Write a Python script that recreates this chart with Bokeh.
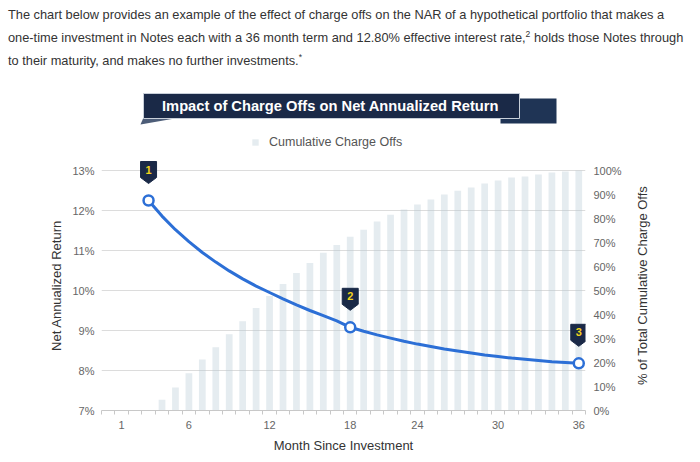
import math
from bokeh.plotting import figure
from bokeh.layouts import column, row
from bokeh.models import (Range1d, LinearAxis, FixedTicker, Label, PrintfTickFormatter, Div)
from bokeh.core.properties import value
from bokeh.embed import file_html
from bokeh.resources import INLINE

# ---------------- data ----------------
months = list(range(1, 37))
charge_offs = [0, 0, 0, 0, 4.5, 9.6, 15.5, 21.3, 26.4, 31.8, 37.2, 42.7, 47.7, 52.7,
               57.3, 61.5, 65.7, 69.0, 72.4, 75.3, 78.7, 81.6, 83.7, 85.8, 87.9, 90.0,
               91.6, 92.9, 94.6, 95.8, 97.1, 97.5, 98.3, 99.2, 99.6, 100.0]
nar_months = list(range(4, 37))
nar = [12.25, 11.86, 11.52, 11.22, 10.95, 10.71, 10.49, 10.29, 10.11, 9.95, 9.79,
       9.64, 9.50, 9.37, 9.24, 9.08, 8.98, 8.89, 8.81, 8.73, 8.66, 8.60, 8.54, 8.49,
       8.44, 8.39, 8.35, 8.31, 8.28, 8.25, 8.22, 8.20, 8.18]
flag_months = [4, 19, 36]
flag_labels = ["1", "2", "3"]
x_tick_pos = [2, 7, 13, 19, 24, 30, 36]
x_tick_labels = ["1", "6", "12", "18", "24", "30", "36"]
nar_ticks = [7, 8, 9, 10, 11, 12, 13]
pct_ticks = [0, 10, 20, 30, 40, 50, 60, 70, 80, 90, 100]

# ---------------- layout constants ----------------
W, H = 700, 462
TXT_H = 75                  # paragraph block
TOP_H = 160                 # page y where chart figure starts
L, R, B = 101, 585, 410     # plot frame edges in page pixels
CW = 630                    # chart figure width (rest: right-hand axis title strip)
PX_PER_NAR = 40.0
PX_PER_PCT = 2.4
FONT = "Liberation Sans"
BLUE = "#2c6fd6"
NAVY = "#1a2947"
BAR_FILL, BAR_ALPHA = "#b6c9d6", 0.36

# ---------------- paragraph ----------------
sup = '<span style="font-size:8.5px;position:relative;top:-5px;">{}</span>'
html = (
    '<div style="font-family:\'Liberation Sans\',Arial,sans-serif;font-size:12.8px;'
    'color:#333333;line-height:22.5px;white-space:nowrap;padding:4px 0 0 8px;margin:0;">'
    'The chart below provides an example of the effect of charge offs on the NAR of a '
    'hypothetical portfolio that makes a<br>'
    'one-time investment in Notes each with a 36 month term and 12.80% effective interest '
    'rate,' + sup.format("2") + ' holds those Notes through<br>'
    'to their maturity, and makes no further investments.' + sup.format("*") +
    '</div>'
)
para = Div(text=html, width=W, height=TXT_H, margin=(0, 0, 0, 0))

# ---------------- banner + legend strip (page-pixel coordinates) ----------------
hdr = figure(width=W, height=TOP_H - TXT_H, x_range=Range1d(L, R),
             y_range=Range1d(TOP_H, TXT_H), x_axis_type=None, y_axis_type=None,
             output_backend="svg", toolbar_location=None,
             min_border_left=L, min_border_right=W - R, min_border_top=0,
             min_border_bottom=0)
hdr.outline_line_color = None
hdr.grid.visible = False

hdr.patch([500, 556, 556, 500], [98, 98, 123, 123], fill_color="#1f3455", line_color=None)
hdr.patch([143, 180, 140], [117, 117, 124], fill_color="#4d5d78", line_color=None)
hdr.quad(left=[143], right=[519], top=[93], bottom=[118], fill_color=NAVY,
         line_color="#c8cfd9", line_width=1)
hdr.add_layout(Label(x=330, y=105.5, text="Impact of Charge Offs on Net Annualized Return",
                     text_align="center", text_baseline="middle", text_color="white",
                     text_font=FONT, text_font_style="bold", text_font_size="14.7px"))

# legend: a zero-height bar in the bar style supplies the legend swatch
hdr.vbar(x=[L + 1], top=[TOP_H], bottom=[TOP_H], width=0.1, fill_color=BAR_FILL,
         fill_alpha=BAR_ALPHA, line_color=None, legend_label="Cumulative Charge Offs")
lg = hdr.legend[0]
lg.location = (251 - L, TOP_H - 149)
lg.orientation = "horizontal"
lg.padding = 0
lg.margin = 0
lg.spacing = 0
lg.border_line_color = None
lg.background_fill_alpha = 0
lg.glyph_width = 8
lg.glyph_height = 8
lg.label_height = 8
lg.label_standoff = 10
lg.label_text_font = FONT
lg.label_text_font_size = "12.5px"
lg.label_text_color = "#555555"

# ---------------- chart figure ----------------
CH = H - TOP_H
frame_h = B - TOP_H
p = figure(width=CW, height=CH, x_range=Range1d(0.5, 36.5),
           y_range=Range1d(7, 7 + frame_h / PX_PER_NAR),
           output_backend="svg", toolbar_location=None,
           min_border_left=L, min_border_right=CW - R,
           min_border_top=0, min_border_bottom=H - B)
p.extra_y_ranges = {"pct": Range1d(0, frame_h / PX_PER_PCT)}
p.outline_line_color = None

# x axis
xa = p.xaxis[0]
xa.ticker = FixedTicker(ticks=x_tick_pos, minor_ticks=[m - 0.5 for m in months] + [36.5])
xa.major_label_overrides = {pos: lab for pos, lab in zip(x_tick_pos, x_tick_labels)}
xa.major_tick_in = 0
xa.major_tick_out = 0
xa.minor_tick_in = 0
xa.minor_tick_out = 4
xa.minor_tick_line_color = "#c8c8c8"
xa.axis_line_color = "#c8c8c8"
xa.major_label_standoff = 6
xa.major_label_text_font = FONT
xa.major_label_text_font_size = "11px"
xa.major_label_text_color = "#666666"
xa.axis_label = "Month Since Investment"
xa.axis_label_text_font = FONT
xa.axis_label_text_font_size = "13px"
xa.axis_label_text_font_style = "normal"
xa.axis_label_text_color = "#333333"
xa.axis_label_standoff = 6

# left axis
ya = p.yaxis[0]
ya.ticker = FixedTicker(ticks=nar_ticks)
ya.formatter = PrintfTickFormatter(format="%d%%")
ya.axis_line_color = None
ya.major_tick_line_color = None
ya.minor_tick_line_color = None
ya.major_tick_out = 0
ya.major_label_standoff = 7
ya.major_label_text_font = FONT
ya.major_label_text_font_size = "11px"
ya.major_label_text_color = "#666666"
ya.axis_label = "Net Annualized Return"
ya.axis_label_text_font = FONT
ya.axis_label_text_font_size = "13px"
ya.axis_label_text_font_style = "normal"
ya.axis_label_text_color = "#333333"
ya.axis_label_standoff = 5

# right axis (its title sits in the strip beside the chart)
ra = LinearAxis(y_range_name="pct", ticker=FixedTicker(ticks=pct_ticks),
                formatter=PrintfTickFormatter(format="%d%%"))
ra.axis_line_color = None
ra.major_tick_line_color = None
ra.minor_tick_line_color = None
ra.major_tick_out = 0
ra.major_label_standoff = 8
ra.major_label_text_font = FONT
ra.major_label_text_font_size = "11px"
ra.major_label_text_color = "#666666"
p.add_layout(ra, "right")

p.xgrid.visible = False
p.ygrid.grid_line_color = "#dcdcdc"
p.ygrid.grid_line_width = 1

# bars
p.vbar(x=months, top=charge_offs, width=0.5, bottom=0, y_range_name="pct",
       fill_color=BAR_FILL, fill_alpha=BAR_ALPHA, line_color=None)

# line + markers
p.line(nar_months, nar, line_width=3, line_color=BLUE)
flag_vals = [nar[nar_months.index(m)] for m in flag_months]
p.scatter(flag_months, flag_vals, size=10, fill_color="white", line_color=BLUE,
          line_width=2.5)

# flags (badges) above the three markers
hw = 8 / 13.44
y_tip, y_rb, y_top = 17 / PX_PER_NAR, 23 / PX_PER_NAR, 39 / PX_PER_NAR
xs, ys = [], []
for m, v in zip(flag_months, flag_vals):
    xs.append([m - hw, m + hw, m + hw, m, m - hw])
    ys.append([v + y_top, v + y_top, v + y_rb, v + y_tip, v + y_rb])
p.patches(xs, ys, fill_color=NAVY, line_color=NAVY, line_width=1)
p.text(x=flag_months, y=[v + 31 / PX_PER_NAR for v in flag_vals], text=flag_labels,
       text_align="center", text_baseline="middle", text_color="#f2d41c",
       text_font=value(FONT), text_font_style="bold", text_font_size="11px")

# ---------------- right-hand axis title strip (page-pixel coordinates) ----------------
side = figure(width=W - CW, height=CH, x_range=Range1d(CW, W), y_range=Range1d(B, TOP_H),
              x_axis_type=None, y_axis_type=None, output_backend="svg",
              toolbar_location=None, min_border_left=0, min_border_right=0,
              min_border_top=0, min_border_bottom=H - B)
side.outline_line_color = None
side.grid.visible = False
side.add_layout(Label(x=642, y=285, text="% of Total Cumulative Charge Offs",
                      angle=math.pi / 2, text_align="center", text_baseline="middle",
                      text_color="#333333", text_font=FONT, text_font_size="13px"))

page = column(para, hdr, row(p, side, spacing=0), spacing=0)
open("out.html", "w").write(file_html(page, INLINE))
